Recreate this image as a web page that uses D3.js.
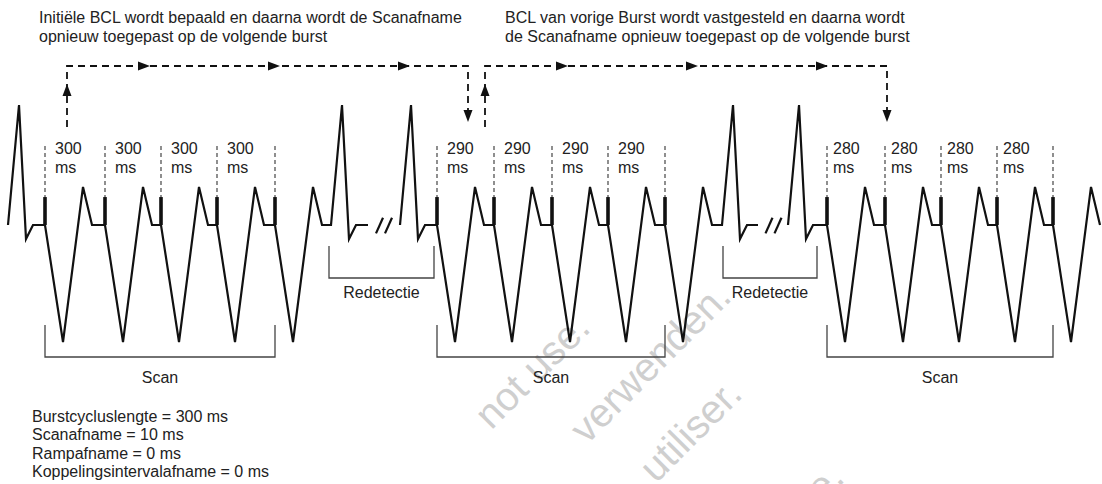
<!DOCTYPE html>
<html>
<head>
<meta charset="utf-8">
<script src="https://cdn.jsdelivr.net/npm/d3@7"></script>
<style>
  body { margin: 0; background: #fff; }
  svg { display: block; font-family: "Liberation Sans", Arial, Helvetica, sans-serif; }
</style>
</head>
<body>
<div id="chart"></div>
<script>
// burst cycle length per burst (ms) and where each pacing spike sits (schematic time units)
const burstBCL = [300, 290, 280];
const burstSpikes = [
  [45, 105, 161, 217, 275],
  [437, 494, 552, 608, 665],
  [827, 885, 941, 997, 1053]
];
// intrinsic (sinus) R waves, before the first burst and during redetection
const sinusR = [19, 342, 411, 733, 799];
// breaks in the trace ("//")
const traceGaps = [[368, 400], [758, 789]];
const redetectSpans = [[329, 434], [723, 817]];
// dashed feedback arrows: up at first x, down at second x
const arrowRoutes = [[67, 468], [485, 887]];

// beat templates: [time offset, amplitude]
const pacedShape = [[0, 0], [18, -0.975], [38, 0.317], [47, 0]];
const sinusShape = [[-11, 0], [0, 1], [7, -0.117], [14, 0]];
const spikeAmp = 0.233;

const captions = [
  ["Initiële BCL wordt bepaald en daarna wordt de Scanafname", "opnieuw toegepast op de volgende burst"],
  ["BCL van vorige Burst wordt vastgesteld en daarna wordt", "de Scanafname opnieuw toegepast op de volgende burst"]
];
const captionX = [39, 505];

const settingNames = ["Burstcycluslengte", "Scanafname", "Rampafname", "Koppelingsintervalafname"];
const settingValues = [300, 10, 0, 0];

// visible pieces of the diagonal watermark
const watermark = ["not use.", "verwenden.", "utiliser.", "e."];
const watermarkEnds = [[592, 330], [733, 299], [744, 396], [846, 480]];

const width = 1102, height = 484;
const fs = 16;

const svg = d3.select("#chart").append("svg")
  .attr("width", width)
  .attr("height", height);

const x = d3.scaleLinear().domain([0, 1102]).range([0, width]);
const y = d3.scaleLinear().domain([-1, 1]).range([345, 105]);

// build the ECG trace
var beats = [];
sinusR.forEach(t => beats.push({ t: t, shape: sinusShape }));
burstSpikes.flat().forEach(t => beats.push({ t: t, shape: pacedShape }));
beats.sort((a, b) => a.t - b.t);

var pts = [];
beats.forEach(b => {
  const first = b.t + b.shape[0][0];
  if (pts.length) {
    const lastX = pts[pts.length - 1][0];
    traceGaps.forEach(g => {
      if (g[0] >= lastX && g[1] <= first + 2) {
        pts.push([g[0], 0]);
        pts.push(null);
      }
    });
  }
  b.shape.forEach(p => pts.push([b.t + p[0], p[1]]));
});

const line = d3.line()
  .defined(d => d !== null)
  .x(d => x(d[0]))
  .y(d => y(d[1]));

// watermark sits behind the drawing
watermark.forEach((t, i) => {
  const e = watermarkEnds[i];
  svg.append("text")
    .attr("transform", `translate(${e[0]},${e[1]}) rotate(-45)`)
    .attr("text-anchor", "end")
    .attr("font-size", 40)
    .attr("fill", "#cfcfcf")
    .text(t);
});

svg.append("path")
  .datum(pts)
  .attr("d", line)
  .attr("fill", "none")
  .attr("stroke", "#111")
  .attr("stroke-width", 2.2)
  .attr("stroke-linejoin", "miter");

// break marks
traceGaps.forEach(g => {
  const mid = (g[0] + g[1]) / 2;
  [-4.5, 4.5].forEach(o => {
    svg.append("line")
      .attr("x1", x(mid + o - 3.5)).attr("y1", y(-0.07))
      .attr("x2", x(mid + o + 3.5)).attr("y2", y(0.06))
      .attr("stroke", "#111")
      .attr("stroke-width", 2.2);
  });
});

// pacing spikes + dashed guides + interval labels
const labelDx = [10, 10, 6];
burstSpikes.forEach((spikes, bi) => {
  const g = svg.append("g");
  g.selectAll(".guide")
    .data(spikes)
    .enter().append("line")
    .attr("class", "guide")
    .attr("x1", d => x(d)).attr("x2", d => x(d))
    .attr("y1", 146).attr("y2", y(spikeAmp))
    .attr("stroke", "#333")
    .attr("stroke-width", 1.1)
    .attr("stroke-dasharray", "4,3");
  g.selectAll(".spike")
    .data(spikes)
    .enter().append("line")
    .attr("class", "spike")
    .attr("x1", d => x(d)).attr("x2", d => x(d))
    .attr("y1", y(0)).attr("y2", y(spikeAmp))
    .attr("stroke", "#111")
    .attr("stroke-width", 3.6);
  const ivals = spikes.slice(0, -1);
  g.selectAll(".val")
    .data(ivals)
    .enter().append("text")
    .attr("x", d => x(d) + labelDx[bi])
    .attr("y", 154)
    .attr("font-size", fs)
    .attr("fill", "#222")
    .text(burstBCL[bi]);
  g.selectAll(".unit")
    .data(ivals)
    .enter().append("text")
    .attr("x", d => x(d) + labelDx[bi])
    .attr("y", 173)
    .attr("font-size", fs)
    .attr("fill", "#222")
    .text("ms");

  // Scan bracket
  const x0 = x(spikes[0]), x1 = x(spikes[spikes.length - 1]);
  g.append("path")
    .attr("d", `M${x0},325V357H${x1}V325`)
    .attr("fill", "none")
    .attr("stroke", "#444")
    .attr("stroke-width", 1.3);
  g.append("text")
    .attr("x", (x0 + x1) / 2)
    .attr("y", 383)
    .attr("text-anchor", "middle")
    .attr("font-size", fs)
    .attr("fill", "#222")
    .text("Scan");
});

// Redetectie brackets
redetectSpans.forEach(s => {
  const x0 = x(s[0]), x1 = x(s[1]);
  svg.append("path")
    .attr("d", `M${x0},246V278H${x1}V246`)
    .attr("fill", "none")
    .attr("stroke", "#444")
    .attr("stroke-width", 1.3);
  svg.append("text")
    .attr("x", (x0 + x1) / 2)
    .attr("y", 298)
    .attr("text-anchor", "middle")
    .attr("font-size", fs)
    .attr("fill", "#222")
    .text("Redetectie");
});

// dashed feedback arrows
const topY = 66;
arrowRoutes.forEach(r => {
  const xa = x(r[0]), xb = x(r[1]);
  svg.append("path")
    .attr("d", `M${xa},127V${topY}H${xb}V118`)
    .attr("fill", "none")
    .attr("stroke", "#111")
    .attr("stroke-width", 1.8)
    .attr("stroke-dasharray", "7,5");
  // up arrow
  svg.append("path")
    .attr("d", `M${xa},84L${xa - 4.5},96L${xa + 4.5},96Z`)
    .attr("fill", "#111");
  // down arrow
  svg.append("path")
    .attr("d", `M${xb},122L${xb - 4.5},110L${xb + 4.5},110Z`)
    .attr("fill", "#111");
  // right arrows along the top
  [83, 213, 343].forEach(o => {
    const tx = xa + o;
    svg.append("path")
      .attr("d", `M${tx},${topY}L${tx - 12},${topY - 4.5}L${tx - 12},${topY + 4.5}Z`)
      .attr("fill", "#111");
  });
});

// captions
captions.forEach((lines, i) => {
  lines.forEach((t, j) => {
    svg.append("text")
      .attr("x", captionX[i])
      .attr("y", 23 + j * 19)
      .attr("font-size", fs)
      .attr("fill", "#222")
      .text(t);
  });
});

// settings list
settingNames.forEach((n, i) => {
  svg.append("text")
    .attr("x", 32)
    .attr("y", 422 + i * 18.3)
    .attr("font-size", fs)
    .attr("fill", "#222")
    .text(`${n} = ${settingValues[i]} ms`);
});
</script>
</body>
</html>
